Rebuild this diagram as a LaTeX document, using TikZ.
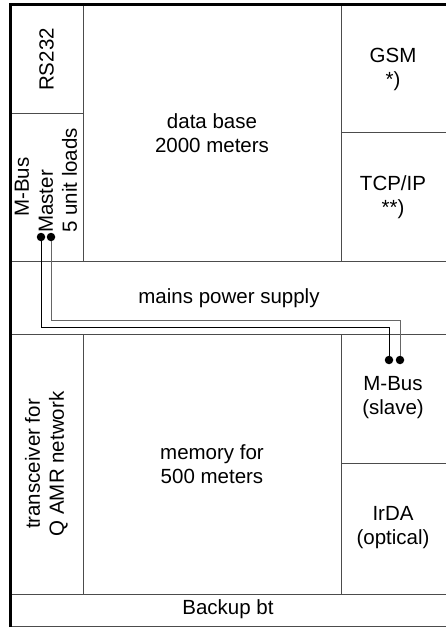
\documentclass[tikz,border=0pt]{standalone}
\usepackage{fontspec}
\setmainfont{Liberation Sans}
\usepackage{tikz}
\tikzset{
	cell/.style={
			align=center, inner sep=0pt,
			font=\fontsize{20.5}{24}\selectfont
		},
	wire/.style={line width=1pt}
}
\tikzstyle{pin} = [circle,fill=black,minimum size=8.5pt,inner sep=0pt]
\tikzstyle{grid} = [draw=black!70, line width=1pt]
\tikzstyle{frame} = [draw=black, line width=3pt]

\begin{document}
\begin{tikzpicture}[x=1pt,y=-1pt]
\useasboundingbox (0,0) rectangle (446,628);

% Lines
\draw[grid] (10,261) -- (446,261);
\draw[grid] (10,334) -- (446,334);
\draw[grid] (10,594) -- (446,594);
\draw[grid] (10,626.5) -- (446,626.5);
\draw[grid] (83,5) -- (83,261);
\draw[grid] (341,5) -- (341,261);
\draw[grid] (83,334) -- (83,594);
\draw[grid] (341,334) -- (341,594);
\draw[grid] (10,114) -- (83,114);
\draw[grid] (341,133) -- (446,133);
\draw[grid] (341,463) -- (446,463);
\draw[frame] (10.5,627) -- (10.5,4.5) -- (446,4.5);

% Nodes
\node[cell, rotate=90] (rs) at (46.5,59.5) {RS232};
\node[cell, rotate=90, align=left, anchor=west] (mm) at (46,233) {\hspace*{16pt}M-Bus\\Master\\5 unit loads};
\node[cell] (db) at (212,133) {data base\\2000 meters};
\node[cell] (gsm) at (393,69) {GSM\\*)};
\node[cell] (tcp) at (393,197) {TCP/IP\\**)};
\node[cell] (ps) at (229,298) {mains power supply};
\node[cell, rotate=90] (tr) at (46.5,464) {transceiver for\\Q AMR network};
\node[cell] (mem) at (212,464) {memory for\\500 meters};
\node[cell] (slv) at (393,398) {M-Bus\\(slave)};
\node[cell] (ir) at (393,528) {IrDA\\(optical)};
\node[cell] (bb) at (228,609) {Backup bt};

% Wires
\node[pin] (mA) at (41,237) {};
\node[pin] (mB) at (51,237) {};
\node[pin] (sA) at (389,360) {};
\node[pin] (sB) at (400,360) {};
\coordinate (kA) at (41,327);
\coordinate (kB) at (51,320);
\draw[wire] (mA) -- (kA) -| (sA);
\draw[wire, black!60] (mB) -- (kB) -| (sB);

\end{tikzpicture}
\end{document}
